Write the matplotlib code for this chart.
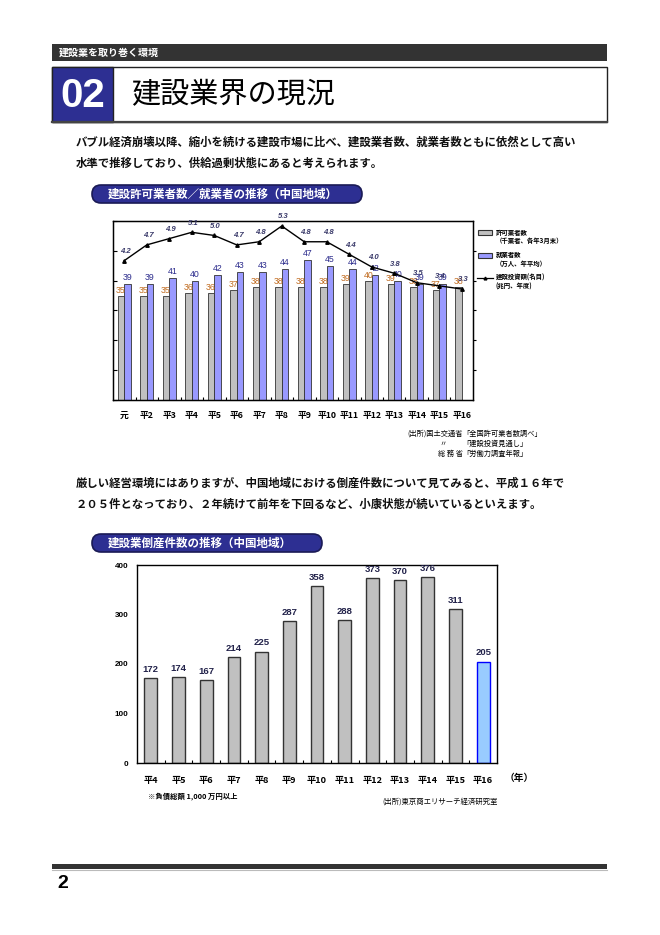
import matplotlib
matplotlib.use("Agg")
import matplotlib.pyplot as plt
from matplotlib.patches import Rectangle, FancyBboxPatch
import numpy as np

plt.rcParams['font.family'] = ['Noto Sans CJK JP', 'DejaVu Sans']

# ---------------- data ----------------
years_top = ["元", "平2", "平3", "平4", "平5", "平6", "平7", "平8", "平9", "平10",
             "平11", "平12", "平13", "平14", "平15", "平16"]
permits = [35, 35, 35, 36, 36, 37, 38, 38, 38, 38, 39, 40, 39, 38, 37, 38]
workers = [39, 39, 41, 40, 42, 43, 43, 44, 47, 45, 44, 42, 40, 39, 39, None]
investment = [4.2, 4.7, 4.9, 5.1, 5.0, 4.7, 4.8, 5.3, 4.8, 4.8, 4.4, 4.0, 3.8, 3.5, 3.4, 3.3]

years_bottom = ["平4", "平5", "平6", "平7", "平8", "平9", "平10", "平11", "平12",
                "平13", "平14", "平15", "平16"]
bankruptcies = [172, 174, 167, 214, 225, 287, 358, 288, 373, 370, 376, 311, 205]

W, H = 660, 935
NAVY = '#2D2F92'
NUMFONT = ['Liberation Sans', 'Noto Sans CJK JP']

fig = plt.figure(figsize=(W / 100, H / 100), dpi=100)
fig.patch.set_facecolor('white')

def rect(l, t, r, b):
    return [l / W, 1 - b / H, (r - l) / W, (b - t) / H]

bg = fig.add_axes([0, 0, 1, 1])
bg.set_xlim(0, W)
bg.set_ylim(H, 0)
bg.axis('off')

# header bar
bg.add_patch(Rectangle((52, 44), 555, 17, facecolor='#333333', edgecolor='none'))
bg.text(59, 52.5, "建設業を取り巻く環境", color='white', fontsize=7.2, fontweight='bold',
        va='center', ha='left')

# title box
bg.add_patch(Rectangle((52, 67), 555, 55, facecolor='white', edgecolor='#222222', lw=1.0))
bg.plot([52, 607], [122, 122], color='#444444', lw=1.6)
bg.add_patch(Rectangle((52, 67), 61, 55, facecolor=NAVY, edgecolor='#222222', lw=1.0))
bg.text(82.5, 96, "02", color='white', fontsize=29, fontweight='bold', family=NUMFONT,
        ha='center', va='center')
bg.text(131, 95, "建設業界の現況", color='black', fontsize=21, ha='left', va='center')

# paragraph 1
bg.text(76, 142, "バブル経済崩壊以降、縮小を続ける建設市場に比べ、建設業者数、就業者数ともに依然として高い",
        fontsize=8.2, fontweight='bold', ha='left', va='center', color='#111111')
bg.text(76, 163, "水準で推移しており、供給過剰状態にあると考えられます。",
        fontsize=8.2, fontweight='bold', ha='left', va='center', color='#111111')

def pill(x0, x1, yc, text):
    h = 18
    bg.add_patch(FancyBboxPatch((x0, yc - h / 2), (x1 - x0), h,
                                boxstyle="round,pad=0,rounding_size=9",
                                facecolor=NAVY, edgecolor='#1a1a55', lw=1.2))
    bg.text(x0 + 16, yc, text, color='white', fontsize=8.3, fontweight='bold',
            ha='left', va='center')

pill(92, 362, 194, "建設許可業者数／就業者の推移（中国地域）")

# ---------------- top chart ----------------
ax = fig.add_axes(rect(113, 221, 473, 400))
x = np.arange(len(years_top))
bw = 0.29
ax.bar(x - bw / 2, permits, width=bw, color='#C0C0C0', edgecolor='#333333', lw=0.6, zorder=2)
wx = [i for i, v in enumerate(workers) if v is not None]
wv = [v for v in workers if v is not None]
ax.bar(np.array(wx) + bw / 2, wv, width=bw, color='#9999FF', edgecolor='#333333', lw=0.6, zorder=2)
ax.set_xlim(-0.5, len(years_top) - 0.5)
ax.set_ylim(0, 60)
ax.set_yticks(np.arange(0, 61, 10))
ax.set_yticklabels([])
ax.tick_params(axis='y', direction='in', length=3, width=0.8)
ax.set_xticks(x)
ax.set_xticklabels(years_top, fontsize=6.3, fontweight='bold')
ax.tick_params(axis='x', length=0, pad=8)
ax.set_xticks(np.arange(0.5, len(years_top) - 1, 1), minor=True)
ax.tick_params(axis='x', which='minor', direction='in', length=2, width=0.8)
for s in ax.spines.values():
    s.set_linewidth(1.0)

for i, v in enumerate(permits):
    ax.annotate(str(v), (i - bw / 2, v), xytext=(0, 0.5), textcoords='offset points',
                ha='center', va='bottom', fontsize=6.3, color='#C06A1E', family=NUMFONT)
for i, v in zip(wx, wv):
    ax.annotate(str(v), (i + bw / 2, v), xytext=(0, 1.5), textcoords='offset points',
                ha='center', va='bottom', fontsize=6.3, color='#2B2B8C', family=NUMFONT)

ax2 = ax.twinx()
y0, y1 = -0.224, 5.459
ax2.set_ylim(y0, y1)
ax2.plot(x, investment, color='black', lw=1.0, marker='^', ms=2.5, zorder=3)
for i, v in enumerate(investment):
    ax2.annotate(f"{v:.1f}", (i, v), xytext=(1, 4), textcoords='offset points',
                 ha='center', va='bottom', fontsize=5.6, color='#3A3A6A',
                 fontstyle='italic', fontweight='bold', family=NUMFONT)
ax2.set_yticks([y0 + t / 60 * (y1 - y0) for t in range(10, 60, 10)])
ax2.set_yticklabels([])
ax2.tick_params(axis='y', direction='out', length=2, width=0.8)

# legend (top chart)
bg.add_patch(Rectangle((478, 229.5), 14, 5, facecolor='#C0C0C0', edgecolor='#333333', lw=0.8))
bg.text(496, 232, "許可業者数", fontsize=4.6, fontweight='bold', va='center')
bg.text(496, 240.5, "（千業者、各年3月末）", fontsize=4.6, fontweight='bold', va='center')
bg.add_patch(Rectangle((478, 252.5), 14, 5, facecolor='#9999FF', edgecolor='#333333', lw=0.8))
bg.text(496, 255, "就業者数", fontsize=4.6, fontweight='bold', va='center')
bg.text(496, 263.5, "（万人、年平均）", fontsize=4.6, fontweight='bold', va='center')
bg.plot([477, 493], [277.5, 277.5], color='black', lw=0.9)
bg.plot([485], [277.5], marker='^', color='black', ms=2)
bg.text(496, 277.5, "建設投資額(名目)", fontsize=4.6, fontweight='bold', va='center')
bg.text(496, 286, "(兆円、年度)", fontsize=4.6, fontweight='bold', va='center')

# sources (top chart)
src_prefix = ["(出所)国土交通省", "〃", "総 務 省"]
src_body = ["「全国許可業者数調べ」", "「建設投資見通し」", "「労働力調査年報」"]
for k, (p, b) in enumerate(zip(src_prefix, src_body)):
    yy = 434 + k * 9.8
    if k == 1:
        bg.text(443, yy, p, fontsize=5.2, ha='center', va='center')
    else:
        bg.text(463, yy, p, fontsize=5.2, ha='right', va='center')
    bg.text(462, yy, b, fontsize=5.2, ha='left', va='center')

# paragraph 2
bg.text(76, 483, "厳しい経営環境にはありますが、中国地域における倒産件数について見てみると、平成１６年で",
        fontsize=8.2, fontweight='bold', ha='left', va='center', color='#111111')
bg.text(76, 504, "２０５件となっており、２年続けて前年を下回るなど、小康状態が続いているといえます。",
        fontsize=8.2, fontweight='bold', ha='left', va='center', color='#111111')

pill(92, 322, 543, "建設業倒産件数の推移（中国地域）")

# ---------------- bottom chart ----------------
bx = fig.add_axes(rect(137, 565, 497, 763))
xb = np.arange(len(years_bottom))
cols = ['#C0C0C0'] * (len(years_bottom) - 1) + ['#99CCFF']
edges = ['#333333'] * (len(years_bottom) - 1) + ['#0000FF']
bx.bar(xb, bankruptcies, width=0.46, color=cols, edgecolor=edges, lw=1.0, zorder=2)
for i, v in enumerate(bankruptcies):
    bx.annotate(str(v), (i, v), xytext=(0, 3), textcoords='offset points',
                ha='center', va='bottom', fontsize=6.8, fontweight='bold',
                color='#22224A', family=NUMFONT)
bx.set_xlim(-0.5, len(years_bottom) - 0.5)
bx.set_ylim(0, 400)
bx.set_yticks(np.arange(0, 401, 100))
bx.set_yticklabels([str(t) for t in range(0, 401, 100)], fontsize=5.8, fontweight='bold',
                   family=NUMFONT)
bx.tick_params(axis='y', direction='in', length=0, pad=6)
bx.set_xticks(xb)
bx.set_xticklabels(years_bottom, fontsize=6.6, fontweight='bold')
bx.tick_params(axis='x', length=0, pad=9)
bx.set_xticks(np.arange(0.5, len(years_bottom) - 1, 1), minor=True)
bx.tick_params(axis='x', which='minor', direction='in', length=2.5, width=0.8)
for s in bx.spines.values():
    s.set_linewidth(1.0)

bg.text(505, 778, "（年）", fontsize=7, fontweight='bold', ha='left', va='center')
bg.text(148, 796, "※負債総額 1,000 万円以上", fontsize=5.3, fontweight='bold', ha='left', va='center')
bg.text(498, 802, "(出所)東京商エリサーチ経済研究室", fontsize=5.3, ha='right', va='center')

# footer
bg.add_patch(Rectangle((52, 864), 555, 4.5, facecolor='#333333', edgecolor='none'))
bg.plot([52, 607], [869.5, 869.5], color='#bbbbbb', lw=0.8)
bg.text(57, 884, "2", fontsize=14, fontweight='bold', family=NUMFONT, ha='left', va='center')

fig.savefig("out.png", dpi=100, facecolor='white')
